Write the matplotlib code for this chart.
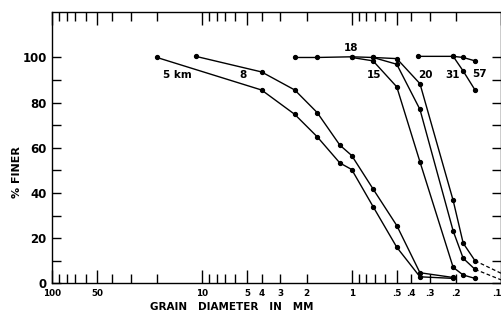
import matplotlib
matplotlib.use('Agg')
import matplotlib.pyplot as plt
from matplotlib.ticker import FixedLocator, FixedFormatter

plt.rcParams['font.family'] = ['DejaVu Sans']
plt.rcParams['font.weight'] = 'bold'

# grain diameter (mm) and % finer for each sample distance
d_5km = [20, 4.0, 2.4, 1.7, 1.2, 1.0, 0.72, 0.5, 0.35, 0.21]
p_5km = [100, 85.6, 74.8, 64.9, 53.3, 50.4, 34.0, 16.0, 2.9, 2.2]

d_8 = [11, 4.0, 2.4, 1.7, 1.2, 1.0, 0.72, 0.5, 0.35, 0.21]
p_8 = [100.5, 93.6, 85.6, 75.6, 61.2, 56.6, 41.8, 25.6, 4.7, 2.6]

d_18 = [2.4, 1.7, 1.0, 0.72, 0.5, 0.35, 0.21, 0.18, 0.15]
p_18 = [100, 100, 100.3, 100, 97, 77, 23.2, 11.1, 6.2]

d_15 = [1.0, 0.72, 0.5, 0.35, 0.21, 0.18, 0.15]
p_15 = [100, 98.5, 87, 53.8, 7.1, 3.7, 2.2]

d_20 = [0.72, 0.5, 0.35, 0.21, 0.18, 0.15]
p_20 = [100, 99.5, 88.4, 36.7, 17.8, 10]

d_57 = [0.36, 0.21, 0.18, 0.15]
p_57 = [100.5, 100.5, 100, 98.5]

d_31 = [0.21, 0.18, 0.15]
p_31 = [100.5, 94, 85.6]

# dashed extrapolations past the last sieve
d_ext = [0.15, 0.1]
p_ext_20 = [10, 4.4]
p_ext_18 = [6.2, 1.5]

# curve labels: text, diameter, % finer
lbl_text = ['5 km', '8', '18', '15', '20', '31', '57']
lbl_d = [14.7, 5.3, 1.01, 0.71, 0.32, 0.213, 0.139]
lbl_p = [92.4, 92.4, 104.4, 92.4, 92.4, 92.4, 92.6]

x_major = [100, 50, 10, 5, 1, 0.5, 0.1]
x_major_lbl = ['100', '50', '10', '5', '1', '.5', '.1']
x_minor = [90, 80, 70, 60, 40, 30, 20, 9, 8, 7, 6, 4, 3, 2,
           0.9, 0.8, 0.7, 0.6, 0.4, 0.3, 0.2]
x_minor_lbl = ['', '', '', '', '', '', '', '', '', '', '', '4', '3', '2',
               '', '', '', '', '.4', '.3', '.2']

fig = plt.figure(figsize=(5.02, 3.22), dpi=100)
ax = fig.add_axes([0.1042, 0.12, 0.8946, 0.8418])

for d, p in [(d_5km, p_5km), (d_8, p_8), (d_18, p_18), (d_15, p_15),
             (d_20, p_20), (d_57, p_57), (d_31, p_31)]:
    ax.plot(d, p, color='black', lw=1.0, marker='o', ms=2.8, clip_on=False)

ax.plot(d_ext, p_ext_20, color='black', lw=0.9, ls=(0, (3, 2)))
ax.plot(d_ext, p_ext_18, color='black', lw=0.9, ls=(0, (3, 2)))

for t, d, p in zip(lbl_text, lbl_d, lbl_p):
    ax.text(d, p, t, fontsize=7.5, ha='center', va='center')

ax.set_xscale('log')
ax.set_xlim(100, 0.1)
ax.set_ylim(0, 120)

ax.xaxis.set_major_locator(FixedLocator(x_major))
ax.xaxis.set_major_formatter(FixedFormatter(x_major_lbl))
ax.xaxis.set_minor_locator(FixedLocator(x_minor))
ax.xaxis.set_minor_formatter(FixedFormatter(x_minor_lbl))
ax.tick_params(axis='x', which='major', direction='in', length=9.5, width=1,
               top=True, labelsize=6.3, pad=4)
ax.tick_params(axis='x', which='minor', direction='in', length=6.5, width=1,
               top=True, labelsize=6.3, pad=4)
# keep the ".1" at the right edge inside the picture
ax.xaxis.get_major_ticks()[-1].label1.set_horizontalalignment('right')

ax.set_yticks([0, 20, 40, 60, 80, 100])
ax.set_yticks([10, 30, 50, 70, 90], minor=True)
ax.tick_params(axis='y', which='both', direction='in', length=6.5, width=1,
               right=True, labelsize=8.5, pad=4)

for s in ax.spines.values():
    s.set_linewidth(1.0)

fig.text(17 / 502, 1 - 172 / 322, '% FINER', rotation=90, fontsize=8,
         ha='center', va='center')
fig.text(232 / 502, 1 - 307 / 322, 'GRAIN   DIAMETER   IN   MM', fontsize=7.5,
         ha='center', va='center')

fig.savefig('out.png', dpi=100)
